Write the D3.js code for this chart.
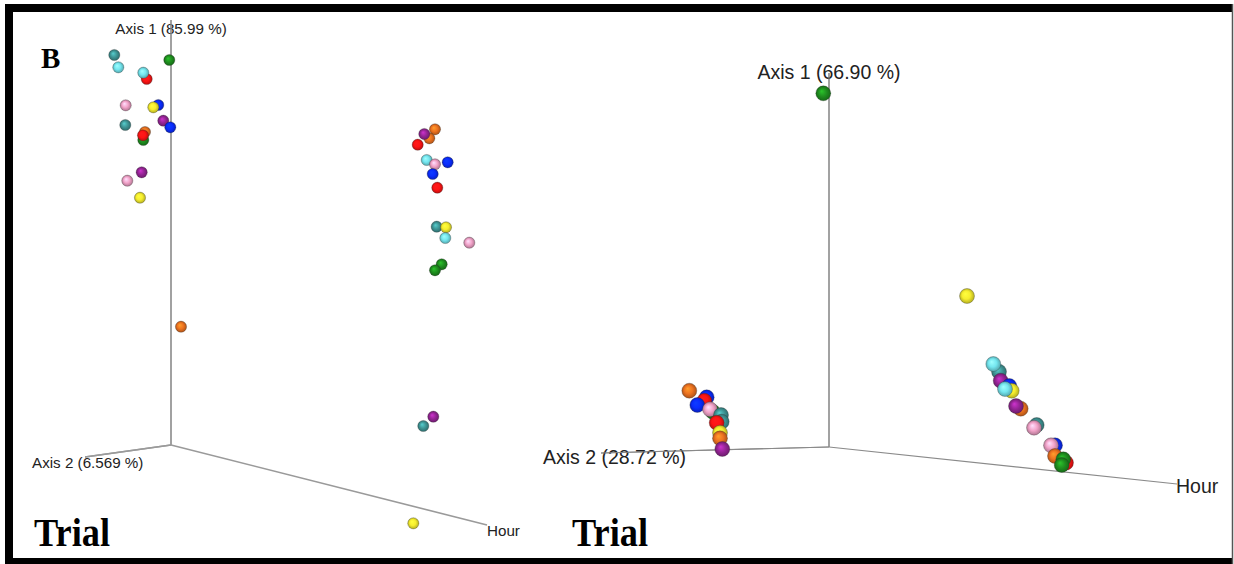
<!DOCTYPE html>
<html>
<head>
<meta charset="utf-8">
<script src="https://cdn.jsdelivr.net/npm/d3@7"></script>
<style>
  body { margin: 0; background: #fff; }
  svg { display: block; }
</style>
</head>
<body>
<div id="chart"></div>
<script>
var width = 1234,
    height = 564;

// sphere colours used by both panels
var colorNames = ["green", "cyan", "teal", "red", "blue", "yellow", "pink", "purple", "orange"];
var colorValues = ["#1f8f1f", "#74e6ef", "#3f9696", "#ff1414", "#0a2cff", "#f6ee2e", "#f2a3c9", "#962596", "#ee7320"];

// projected coordinates relative to the axis origin (x right, y up), drawing order = depth order
var leftPoints = [
    [-56.7, 390, "teal"], [-52.7, 377.7, "cyan"], [-1.7, 385, "green"], [-24.3, 366, "red"],
    [-27.7, 372.3, "cyan"], [-45.3, 339.7, "pink"], [-12.7, 340, "blue"], [-17.7, 337.7, "yellow"],
    [-45.7, 320, "teal"], [-7.7, 324.3, "purple"], [-0.7, 317.7, "blue"], [-27.7, 305, "green"],
    [-26, 313, "orange"], [-28, 309.7, "red"], [-29.3, 272.7, "purple"], [-43.7, 264.3, "pink"],
    [-31, 247.3, "yellow"], [10, 118.3, "orange"],
    [264, 315.7, "orange"], [258.3, 306.7, "orange"], [253.3, 311, "purple"], [246.7, 300.3, "red"],
    [255.7, 285, "cyan"], [264, 280.7, "pink"], [276.7, 282.7, "blue"], [261.7, 271, "blue"],
    [266.3, 257.3, "red"], [265.7, 218.3, "teal"], [275, 217.7, "yellow"], [274.3, 207, "cyan"],
    [298.3, 202.3, "pink"], [270.7, 180.7, "green"], [264, 174.7, "green"],
    [262.3, 28.3, "purple"], [252.3, 19, "teal"], [242.3, -78.3, "yellow"]
];

var rightPoints = [
    [-5.7, 353.7, "green"], [138, 151, "yellow"],
    [-139.7, 56.3, "orange"], [-122.3, 49.7, "blue"], [-124.7, 46.3, "red"], [-131.7, 42, "blue"],
    [-116.3, 35.3, "green"], [-119, 37.7, "pink"], [-108, 32, "teal"], [-107.3, 25.3, "teal"],
    [-112.3, 24.3, "red"], [-109, 14.3, "yellow"], [-109, 8.7, "orange"], [-106.7, -2, "purple"],
    [170, 75.3, "teal"], [164.3, 83, "cyan"], [171.7, 66.3, "purple"], [180.3, 61, "blue"],
    [182.7, 56.3, "yellow"], [176, 58, "cyan"], [191.7, 38.3, "orange"], [187, 41, "purple"],
    [207.7, 22, "teal"], [205, 19.3, "pink"], [226, 1.7, "blue"], [222, 1.7, "pink"],
    [226, -9, "orange"], [237, -15.7, "red"], [234.3, -12.3, "green"], [232.7, -18, "green"]
];

// axis end points (projected) and labels
var leftAxisEnds = [[0, 425], [-86, -12], [316, -80]];
var leftAxisLabels = ["Axis 1 (85.99 %)", "Axis 2 (6.569 %)", "Hour"];
var rightAxisEnds = [[0, 374], [-228, -6], [348, -37]];
var rightAxisLabels = ["Axis 1 (66.90 %)", "Axis 2 (28.72 %)", "Hour"];

var panels = [
    { origin: [171, 445], points: leftPoints, ends: leftAxisEnds, labels: leftAxisLabels,
      r: 5.6, font: 15.2, axisColor: "#9a9a9a", axisWidth: 1.6,
      labelPos: [[171, 33.5, "middle"], [32, 467.5, "start"], [487, 535.5, "start"]] },
    { origin: [829, 447], points: rightPoints, ends: rightAxisEnds, labels: rightAxisLabels,
      r: 7.5, font: 19.5, axisColor: "#8a8a8a", axisWidth: 1.2,
      labelPos: [[829, 78.5, "middle"], [543, 464, "start"], [1176, 493, "start"]] }
];

var svg = d3.select("#chart")
    .append("svg")
    .attr("width", width)
    .attr("height", height);

svg.append("rect")
    .attr("width", width)
    .attr("height", height)
    .attr("fill", "#fff");

var colorScale = d3.scaleOrdinal()
    .domain(colorNames)
    .range(colorValues);

// shaded sphere gradients
var defs = svg.append("defs");
colorNames.forEach(function (name) {
    var c = colorScale(name);
    var g = defs.append("radialGradient")
        .attr("id", "ball-" + name)
        .attr("cx", "50%").attr("cy", "50%").attr("r", "50%")
        .attr("fx", "38%").attr("fy", "35%");
    g.append("stop").attr("offset", "0%").attr("stop-color", d3.color(c).brighter(0.9).formatHex());
    g.append("stop").attr("offset", "55%").attr("stop-color", c);
    g.append("stop").attr("offset", "100%").attr("stop-color", d3.color(c).darker(0.9).formatHex());
});

panels.forEach(function (p) {
    var x = d3.scaleLinear()
        .domain([-300, 400])
        .range([p.origin[0] - 300, p.origin[0] + 400]);
    var y = d3.scaleLinear()
        .domain([-100, 450])
        .range([p.origin[1] + 100, p.origin[1] - 450]);

    var g = svg.append("g");

    g.selectAll("line.axis")
        .data(p.ends)
        .enter().append("line")
        .attr("class", "axis")
        .attr("x1", x(0))
        .attr("y1", y(0))
        .attr("x2", function (d) { return x(d[0]); })
        .attr("y2", function (d) { return y(d[1]); })
        .attr("stroke", p.axisColor)
        .attr("stroke-width", p.axisWidth);

    g.selectAll("text.axis-label")
        .data(p.labels)
        .enter().append("text")
        .attr("class", "axis-label")
        .attr("x", function (d, i) { return p.labelPos[i][0]; })
        .attr("y", function (d, i) { return p.labelPos[i][1]; })
        .attr("text-anchor", function (d, i) { return p.labelPos[i][2]; })
        .style("font-family", "Liberation Sans, Arial, sans-serif")
        .style("font-size", p.font + "px")
        .style("fill", "#222")
        .text(function (d) { return d; });

    // axis lines pass over the labels like in the 3D view
    g.selectAll("line.over")
        .data(p.ends.slice(0, 2))
        .enter().append("line")
        .attr("class", "over")
        .attr("x1", x(0))
        .attr("y1", y(0))
        .attr("x2", function (d) { return x(d[0]); })
        .attr("y2", function (d) { return y(d[1]); })
        .attr("stroke", p.axisColor)
        .attr("stroke-width", p.axisWidth * 0.8);

    g.selectAll("circle")
        .data(p.points)
        .enter().append("circle")
        .attr("cx", function (d) { return x(d[0]); })
        .attr("cy", function (d) { return y(d[1]); })
        .attr("r", p.r)
        .attr("fill", function (d) { return "url(#ball-" + d[2] + ")"; })
        .attr("stroke", "rgba(40,40,40,0.35)")
        .attr("stroke-width", 0.8);
});

// panel letters
var serif = "Liberation Serif, Times New Roman, serif";
svg.append("text")
    .attr("x", 41)
    .attr("y", 68)
    .style("font-family", serif)
    .style("font-weight", "bold")
    .style("font-size", "29px")
    .text("B");

[[34, 546], [572, 546]].forEach(function (pos) {
    svg.append("text")
        .attr("x", pos[0])
        .attr("y", pos[1])
        .attr("textLength", 76)
        .attr("lengthAdjust", "spacingAndGlyphs")
        .style("font-family", serif)
        .style("font-weight", "bold")
        .style("font-size", "40px")
        .text("Trial");
});

// frame
svg.append("path")
    .attr("d", "M5,4H1232V12H13V558H1232V564H5Z")
    .attr("fill", "#000");
svg.append("line")
    .attr("x1", 1232.5).attr("y1", 4)
    .attr("x2", 1232.5).attr("y2", 564)
    .attr("stroke", "#555")
    .attr("stroke-width", 1.5);
</script>
</body>
</html>
